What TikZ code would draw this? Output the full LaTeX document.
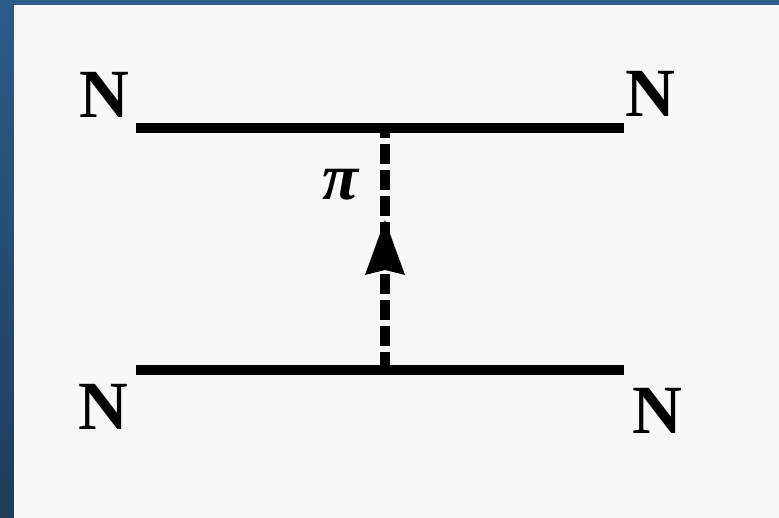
\documentclass[tikz,border=0pt]{standalone}
\usepackage{fontspec}
\setmainfont{Liberation Serif}
\usetikzlibrary{decorations.markings}
\definecolor{bordertop}{HTML}{2D5B8A}
\definecolor{borderbot}{HTML}{1E3D5C}
\definecolor{paper}{HTML}{F8F8F8}
\tikzset{
  nucleon/.style={line width=10pt},
  pion/.style={line width=10pt, dash pattern=on 20pt off 6pt, dash phase=2pt,
    postaction={decorate, decoration={markings,
      mark=at position 150pt with {\fill (0,0) -- (-55pt,20pt) -- (-50pt,0) -- (-55pt,-20pt) -- cycle;}}}},
  lbl/.style={inner sep=0pt, font=\fontsize{69}{69}\selectfont\bfseries},
  pilbl/.style={inner sep=0pt, font=\fontsize{66}{66}\selectfont\bfseries\itshape}
}
\begin{document}
\begin{tikzpicture}[x=1pt,y=-1pt]
\useasboundingbox (0,0) rectangle (779,518);
\shade[top color=bordertop, bottom color=borderbot] (0,0) rectangle (779,518);
\fill[paper] (14,5) rectangle (779,518);
% end points
\coordinate (tl) at (136,128);
\coordinate (tr) at (624,128);
\coordinate (bl) at (136,370);
\coordinate (br) at (624,370);
\coordinate (vt) at (385,128);
\coordinate (vb) at (385,370);
% nucleon lines
\draw[nucleon] (tl) -- (tr);
\draw[nucleon] (bl) -- (br);
% pion exchange
\draw[pion] (vb) -- (vt);
% labels
\node[lbl] (nTL) at (104,95) {N};
\node[lbl] (nTR) at (650,94) {N};
\node[lbl] (nBL) at (103,407) {N};
\node[lbl] (nBR) at (657,411) {N};
\node[pilbl] (pi) at (341,185) {π};
\end{tikzpicture}
\end{document}
